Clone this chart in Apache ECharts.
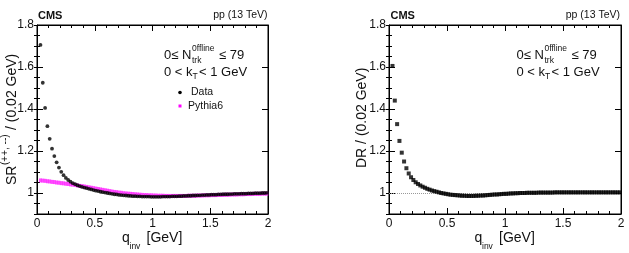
<!DOCTYPE html>
<html>
<head>
<meta charset="utf-8">
<script src="https://cdn.jsdelivr.net/npm/echarts@6/dist/echarts.min.js"></script>
<style>
  html, body { margin: 0; padding: 0; background: #fff; }
  #chart { width: 629px; height: 253px; }
</style>
</head>
<body>
<div id="chart"></div>
<script>
// bin width 0.02 GeV, first bin centre at 0.03
const binWidth = 0.02
const firstBin = 0.03

const xTicks = [0, 0.5, 1, 1.5, 2]
const yTicks = [1, 1.2, 1.4, 1.6, 1.8]
const yMinorTicks = [0.9, 0.95, 1, 1.05, 1.1, 1.15, 1.2, 1.25, 1.3, 1.35, 1.4, 1.45, 1.5, 1.55, 1.6, 1.65, 1.7, 1.75, 1.8]

// SR(++,--) data
const srData = [
  1.705, 1.525, 1.405, 1.318, 1.258, 1.211, 1.176, 1.146, 1.121, 1.101,
  1.085, 1.072, 1.062, 1.054, 1.047, 1.042, 1.037, 1.033, 1.029, 1.026,
  1.023, 1.020, 1.017, 1.014, 1.011, 1.009, 1.006, 1.004, 1.002, 1.000,
  0.998, 0.996, 0.994, 0.993, 0.991, 0.990, 0.989, 0.988, 0.987, 0.986,
  0.985, 0.985, 0.984, 0.984, 0.983, 0.983, 0.983, 0.983, 0.982, 0.982,
  0.982, 0.982, 0.982, 0.983, 0.983, 0.983, 0.983, 0.984, 0.984, 0.984,
  0.985, 0.985, 0.986, 0.986, 0.987, 0.987, 0.988, 0.988, 0.989, 0.989,
  0.990, 0.990, 0.991, 0.991, 0.992, 0.992, 0.992, 0.993, 0.993, 0.994,
  0.994, 0.994, 0.995, 0.995, 0.996, 0.996, 0.996, 0.997, 0.997, 0.997,
  0.998, 0.998, 0.998, 0.999, 0.999, 0.999, 1.000, 1.000, 1.001
]

// SR Pythia6
const srPythia = [
  1.060, 1.059, 1.058, 1.056, 1.055, 1.053, 1.052, 1.050, 1.049, 1.047,
  1.046, 1.044, 1.043, 1.041, 1.040, 1.038, 1.036, 1.034, 1.033, 1.031,
  1.029, 1.027, 1.025, 1.023, 1.021, 1.019, 1.017, 1.015, 1.013, 1.011,
  1.009, 1.007, 1.005, 1.004, 1.002, 1.001, 0.999, 0.998, 0.997, 0.996,
  0.995, 0.994, 0.993, 0.992, 0.991, 0.990, 0.990, 0.989, 0.989, 0.988,
  0.988, 0.987, 0.987, 0.987, 0.986, 0.986, 0.986, 0.986, 0.986, 0.986,
  0.986, 0.986, 0.986, 0.986, 0.987, 0.987, 0.987, 0.987, 0.988, 0.988,
  0.988, 0.989, 0.989, 0.989, 0.990, 0.990, 0.990, 0.991, 0.991, 0.991,
  0.992, 0.992, 0.992, 0.993, 0.993, 0.993, 0.994, 0.994, 0.994, 0.995,
  0.995, 0.995, 0.996, 0.996, 0.996, 0.996, 0.997, 0.997, 0.997
]

// DR data
const drData = [
  1.605, 1.440, 1.328, 1.248, 1.192, 1.150, 1.118, 1.093, 1.075, 1.062,
  1.051, 1.043, 1.036, 1.030, 1.025, 1.020, 1.016, 1.012, 1.009, 1.006,
  1.003, 1.000, 0.998, 0.996, 0.994, 0.992, 0.991, 0.990, 0.989, 0.988,
  0.987, 0.987, 0.986, 0.986, 0.986, 0.986, 0.987, 0.987, 0.988, 0.988,
  0.989, 0.990, 0.991, 0.992, 0.993, 0.993, 0.994, 0.995, 0.996, 0.996,
  0.997, 0.998, 0.998, 0.999, 0.999, 1.000, 1.000, 1.000, 1.001, 1.001,
  1.001, 1.001, 1.001, 1.002, 1.002, 1.002, 1.002, 1.002, 1.002, 1.002,
  1.003, 1.003, 1.003, 1.003, 1.003, 1.003, 1.003, 1.003, 1.003, 1.003,
  1.003, 1.003, 1.003, 1.003, 1.003, 1.003, 1.003, 1.003, 1.003, 1.003,
  1.003, 1.003, 1.003, 1.003, 1.003, 1.003, 1.003, 1.003, 1.003
]

const FONT = '"Liberation Sans", Arial, sans-serif'
const INK = '#111'

const toPairs = (vals) => vals.map((v, i) => [+(firstBin + i * binWidth).toFixed(2), v])

const grids = [
  { left: 37, top: 25, width: 231, height: 189 },
  { left: 389, top: 25, width: 232, height: 189 }
]

let xAxes = []
let yAxes = []
grids.forEach((g, gi) => {
  ;['bottom', 'top'].forEach(pos => {
    xAxes.push({
      type: 'value', gridIndex: gi, position: pos,
      min: xTicks[0], max: xTicks[xTicks.length - 1], interval: 0.5,
      axisLine: { show: true, onZero: false, lineStyle: { color: '#000', width: 1 } },
      axisTick: { show: true, inside: true, length: 6, lineStyle: { color: '#000' } },
      minorTick: { show: true, splitNumber: 5, length: 3, lineStyle: { color: '#000' } },
      axisLabel: { show: pos === 'bottom', fontSize: 12, color: INK, fontFamily: FONT, margin: 4 },
      splitLine: { show: false },
      minorSplitLine: { show: false }
    })
  })
  ;['left', 'right'].forEach(pos => {
    // major ticks (with labels on the left)
    yAxes.push({
      type: 'value', gridIndex: gi, position: pos, min: 0.9, max: 1.8,
      axisLine: { show: true, onZero: false, lineStyle: { color: '#000', width: 1 } },
      axisTick: { show: true, inside: true, length: 6, customValues: yTicks, lineStyle: { color: '#000' } },
      axisLabel: { show: pos === 'left', customValues: yTicks, fontSize: 12, color: INK, fontFamily: FONT, margin: 3 },
      splitLine: { show: false }
    })
    // minor ticks
    yAxes.push({
      type: 'value', gridIndex: gi, position: pos, min: 0.9, max: 1.8,
      axisLine: { show: false },
      axisTick: { show: true, inside: true, length: 3, customValues: yMinorTicks, lineStyle: { color: '#000' } },
      axisLabel: { show: false },
      splitLine: { show: false }
    })
  })
})

const txt = (x, y, text, size, opts) => Object.assign({
  type: 'text', x: x, y: y, silent: true,
  style: Object.assign({ text: text, font: size + 'px ' + FONT, fill: INK, align: 'left', verticalAlign: 'middle' }, (opts && opts.style) || {})
}, opts && opts.rotation ? { rotation: opts.rotation } : {})

const annotations = (dx) => [
  txt(38 + dx, 16, 'CMS', 11, { style: { font: 'bold 11px ' + FONT } }),
  txt(267.5 + dx, 15, 'pp (13 TeV)', 10.5, { style: { align: 'right' } }),
  txt(164 + dx, 55, '0≤ N', 13),
  txt(192 + dx, 49, '0ffline', 8.5),
  txt(192 + dx, 61, 'trk', 8.5),
  txt(219 + dx, 55, '≤ 79', 13),
  txt(164 + dx, 72, '0 < k', 13),
  txt(192.5 + dx, 77, 'T', 8.5),
  txt(199 + dx, 72, '< 1 GeV', 13),
  txt(122 + dx, 238, 'q', 14),
  txt(129.5 + dx, 247, 'inv', 8.5),
  txt(146.5 + dx, 238, '[GeV]', 14)
]

const graphic = [].concat(
  annotations(0),
  annotations(352.5),
  [
    // legend of the left panel
    { type: 'circle', silent: true, shape: { cx: 180, cy: 92.5, r: 1.8 }, style: { fill: '#000' } },
    txt(191, 92.5, 'Data', 10.5),
    { type: 'rect', silent: true, shape: { x: 178.5, y: 104.5, width: 3, height: 3 }, style: { fill: '#ff00ff' } },
    txt(188, 106, 'Pythia6', 10.5),
    // y titles
    txt(12, 185, 'SR', 14, { rotation: Math.PI / 2 }),
    txt(5.5, 165, '(++, --)', 10, { rotation: Math.PI / 2 }),
    txt(12, 130, '/ (0.02 GeV)', 14, { rotation: Math.PI / 2 }),
    txt(362.5, 168, 'DR / (0.02 GeV)', 14, { rotation: Math.PI / 2 })
  ]
)

const option = {
  animation: false,
  backgroundColor: '#fff',
  grid: grids.map(g => Object.assign({
    show: true, borderColor: '#000', borderWidth: 1, backgroundColor: 'transparent',
    containLabel: false, outerBoundsMode: 'none'
  }, g)),
  xAxis: xAxes,
  yAxis: yAxes,
  series: [
    {
      name: 'Pythia6', type: 'scatter', xAxisIndex: 0, yAxisIndex: 0,
      symbol: 'rect', symbolSize: [3, 4],
      itemStyle: { color: '#ff22ff' },
      data: toPairs(srPythia)
    },
    {
      name: 'Data', type: 'scatter', xAxisIndex: 0, yAxisIndex: 0,
      symbol: 'circle', symbolSize: 3.8,
      itemStyle: { color: '#000' },
      data: toPairs(srData)
    },
    {
      name: 'DR', type: 'scatter', xAxisIndex: 2, yAxisIndex: 4,
      symbol: 'rect', symbolSize: 4,
      itemStyle: { color: '#000' },
      data: toPairs(drData),
      markLine: {
        silent: true, symbol: 'none', label: { show: false },
        lineStyle: { color: '#999', type: 'dotted', width: 1 },
        data: [{ yAxis: 1 }],
        z: 1
      }
    }
  ],
  graphic: graphic
}

const chart = echarts.init(document.getElementById('chart'), null, { renderer: 'canvas' })
chart.setOption(option)
</script>
</body>
</html>
